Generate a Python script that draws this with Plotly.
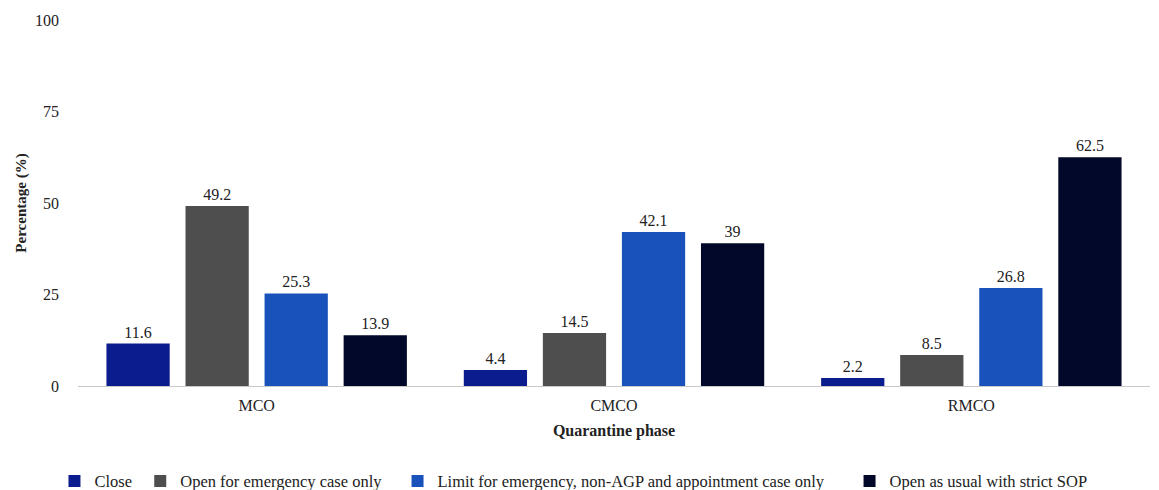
import plotly.graph_objects as go

phases = ["MCO", "CMCO", "RMCO"]
series_names = [
    "Close",
    "Open for emergency case only",
    "Limit for emergency, non-AGP and appointment case only",
    "Open as usual with strict SOP",
]
close_vals = [11.6, 4.4, 2.2]
emergency_vals = [49.2, 14.5, 8.5]
limit_vals = [25.3, 42.1, 26.8]
usual_vals = [13.9, 39, 62.5]
y_ticks = [0, 25, 50, 75, 100]

colors = ["#0b1d8e", "#4e4e4e", "#1a52bc", "#02082a"]
values = [close_vals, emergency_vals, limit_vals, usual_vals]
legend_ids = ["legend", "legend2", "legend3", "legend4"]
legend_x = [0.047, 0.121, 0.343, 0.733]

FONT = "Liberation Serif"

fig = go.Figure()
for name, vals, col, lid in zip(series_names, values, colors, legend_ids):
    fig.add_trace(go.Bar(
        x=phases, y=vals, name=name, legend=lid,
        marker=dict(color=col, line=dict(width=0)),
        text=[f"{v:g}" for v in vals], textposition="outside",
        textfont=dict(family=FONT, size=16, color="#222"),
        cliponaxis=False,
    ))

legend_common = dict(orientation="h", xref="container", xanchor="left",
                     y=0.018, yref="container", yanchor="middle",
                     font=dict(family=FONT, size=16.5, color="#222"),
                     itemwidth=30, bgcolor="rgba(0,0,0,0)")

layout_legends = {}
for lid, lx in zip(legend_ids, legend_x):
    layout_legends[lid] = dict(x=lx, **legend_common)

fig.update_layout(
    width=1159, height=490,
    margin=dict(l=78, r=9, t=20, b=104, autoexpand=False),
    paper_bgcolor="white", plot_bgcolor="white",
    barmode="group", bargap=0.115, bargroupgap=0.2,
    font=dict(family=FONT, size=16, color="#222"),
    showlegend=True,
    xaxis=dict(
        showgrid=False, showline=True, linecolor="#c8c8c8", linewidth=1,
        ticks="", ticklabelstandoff=5, tickfont=dict(family=FONT, size=16),
        title=dict(text="<b>Quarantine phase</b>", font=dict(family=FONT, size=16), standoff=11),
    ),
    yaxis=dict(
        range=[0, 100], tickvals=y_ticks, showgrid=False, zeroline=False,
        showline=False, ticks="", ticklabelstandoff=18,
        tickfont=dict(family=FONT, size=16),
        title=dict(text="<b>Percentage (%)</b>", font=dict(family=FONT, size=15), standoff=4),
    ),
    **layout_legends,
)

fig.write_html("out.html")
